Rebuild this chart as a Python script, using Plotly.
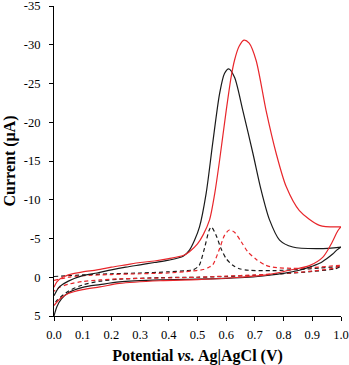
import plotly.graph_objects as go

# ---- data (potential V, current µA) ----
black_fwd_v = [0.0, 0.01, 0.02, 0.05, 0.1, 0.15, 0.2, 0.25, 0.3, 0.35, 0.4, 0.45, 0.472, 0.49, 0.507, 0.53, 0.553, 0.577, 0.594, 0.609, 0.629, 0.658, 0.693, 0.722, 0.751, 0.786, 0.832, 0.925, 1.0]
black_fwd_i = [2.4, 1.7, 1.2, 0.5, -0.2, -0.55, -0.95, -1.3, -1.6, -1.9, -2.2, -2.7, -3.5, -4.8, -6.5, -10.8, -17.3, -23.7, -26.3, -26.9, -25.8, -21.5, -16.0, -11.2, -7.4, -4.8, -3.9, -3.7, -3.9]
black_rev_v = [1.0, 0.985, 0.971, 0.95, 0.925, 0.89, 0.855, 0.8, 0.75, 0.68, 0.6, 0.5, 0.37, 0.228, 0.16, 0.1, 0.05, 0.026, 0.01, 0.0]
black_rev_i = [-3.9, -3.5, -3.0, -2.4, -1.8, -1.3, -0.9, -0.5, -0.26, 0.0, 0.15, 0.25, 0.35, 0.6, 0.95, 1.3, 2.0, 2.8, 3.8, 5.0]

red_fwd_v = [0.0, 0.01, 0.03, 0.06, 0.1, 0.15, 0.2, 0.25, 0.3, 0.35, 0.4, 0.45, 0.472, 0.5, 0.52, 0.542, 0.56, 0.577, 0.6, 0.617, 0.629, 0.645, 0.662, 0.68, 0.704, 0.739, 0.774, 0.809, 0.855, 0.925, 1.0]
red_fwd_i = [1.3, 0.6, 0.0, -0.4, -0.7, -0.95, -1.3, -1.6, -1.9, -2.1, -2.4, -2.8, -3.3, -4.3, -5.5, -7.4, -10.8, -15.1, -21.5, -25.8, -28.0, -29.8, -30.6, -30.2, -28.0, -21.5, -16.0, -11.7, -8.6, -6.7, -6.5]
red_rev_v = [1.0, 0.989, 0.966, 0.937, 0.89, 0.82, 0.74, 0.65, 0.5, 0.37, 0.228, 0.16, 0.1, 0.05, 0.02, 0.0]
red_rev_i = [-6.5, -6.0, -4.3, -2.6, -1.5, -0.9, -0.3, 0.0, 0.3, 0.45, 0.8, 1.25, 1.6, 2.1, 2.8, 3.65]

blackd_fwd_v = [0.0, 0.1, 0.2, 0.3, 0.4, 0.46, 0.484, 0.5, 0.507, 0.524, 0.541, 0.548, 0.565, 0.582, 0.6, 0.623, 0.646, 0.68, 0.76, 0.85, 0.93, 1.0]
blackd_fwd_i = [-0.1, -0.3, -0.45, -0.55, -0.7, -0.85, -0.95, -1.3, -1.6, -3.7, -6.1, -6.5, -5.4, -3.7, -2.4, -1.55, -1.1, -0.9, -0.85, -1.0, -1.2, -1.4]
blackd_rev_v = [1.0, 0.98, 0.9, 0.8, 0.7, 0.6, 0.5, 0.37, 0.23, 0.16, 0.1, 0.05, 0.01, 0.0]
blackd_rev_i = [-1.4, -1.1, -0.75, -0.45, -0.25, -0.1, 0.0, 0.05, 0.25, 0.5, 1.0, 1.8, 3.0, 3.5]

redd_fwd_v = [0.0, 0.05, 0.1, 0.2, 0.3, 0.4, 0.48, 0.52, 0.54, 0.553, 0.577, 0.594, 0.611, 0.629, 0.652, 0.675, 0.705, 0.735, 0.762, 0.832, 0.9, 1.0]
redd_fwd_i = [0.4, 0.0, -0.2, -0.35, -0.45, -0.55, -0.8, -1.0, -1.3, -1.6, -3.7, -5.4, -6.1, -5.8, -4.6, -3.3, -2.3, -1.6, -1.3, -1.15, -1.25, -1.55]
redd_rev_v = [1.0, 0.98, 0.9, 0.8, 0.7, 0.6, 0.5, 0.37, 0.23, 0.16, 0.1, 0.05, 0.02, 0.0]
redd_rev_i = [-1.55, -1.2, -0.8, -0.5, -0.3, -0.15, 0.0, 0.1, 0.2, 0.35, 0.55, 0.9, 1.3, 1.8]

x_tick_vals = [0.0, 0.1, 0.2, 0.3, 0.4, 0.5, 0.6, 0.7, 0.8, 0.9, 1.0]
x_tick_text = ["0.0", "0.1", "0.2", "0.3", "0.4", "0.5", "0.6", "0.7", "0.8", "0.9", "1.0"]
y_tick_vals = [-35, -30, -25, -20, -15, -10, -5, 0, 5]
y_tick_text = ["-35", "-30", "-25", "-20", "-15", "-10", "-5", "0", "5"]

FONT = "Liberation Serif"

fig = go.Figure()

def add(vf, cf, vr, cr, color, dash):
    fig.add_trace(go.Scatter(
        x=vf + vr, y=cf + cr, mode="lines",
        line=dict(color=color, width=1.2, dash=dash, shape="spline", smoothing=0.8),
        showlegend=False, hoverinfo="skip"))

add(blackd_fwd_v, blackd_fwd_i, blackd_rev_v, blackd_rev_i, "#1a1a1a", "4px,3px")
add(redd_fwd_v, redd_fwd_i, redd_rev_v, redd_rev_i, "#e8262b", "4px,3px")
add(black_fwd_v, black_fwd_i, black_rev_v, black_rev_i, "#1a1a1a", "solid")
add(red_fwd_v, red_fwd_i, red_rev_v, red_rev_i, "#e8262b", "solid")

fig.update_layout(
    width=349, height=365,
    margin=dict(l=54, r=8, t=6, b=49),
    paper_bgcolor="white", plot_bgcolor="white",
    font=dict(family=FONT, size=12, color="black"),
)
fig.update_xaxes(
    range=[0, 1.0], tickvals=x_tick_vals, ticktext=x_tick_text,
    ticks="outside", ticklen=4, tickwidth=1, tickcolor="black",
    showline=True, linecolor="black", linewidth=1,
    showgrid=False, zeroline=False, ticklabeloverflow="allow",
    ticklabelstandoff=3, automargin=False,
    tickfont=dict(family=FONT, size=12.5),
    title=dict(text="<b>Potential <i>vs.</i> Ag|AgCl (V)</b>", font=dict(family=FONT, size=16), standoff=10),
)
fig.update_yaxes(
    range=[5, -35], tickvals=y_tick_vals, ticktext=y_tick_text,
    ticks="outside", ticklen=4, tickwidth=1, tickcolor="black",
    showline=True, linecolor="black", linewidth=1,
    showgrid=False, zeroline=False, ticklabeloverflow="allow",
    ticklabelstandoff=6, automargin=False,
    tickfont=dict(family=FONT, size=12.5),
    title=dict(text="<b>Current (μA)</b>", font=dict(family=FONT, size=16), standoff=4),
)

fig.write_html("out.html")
